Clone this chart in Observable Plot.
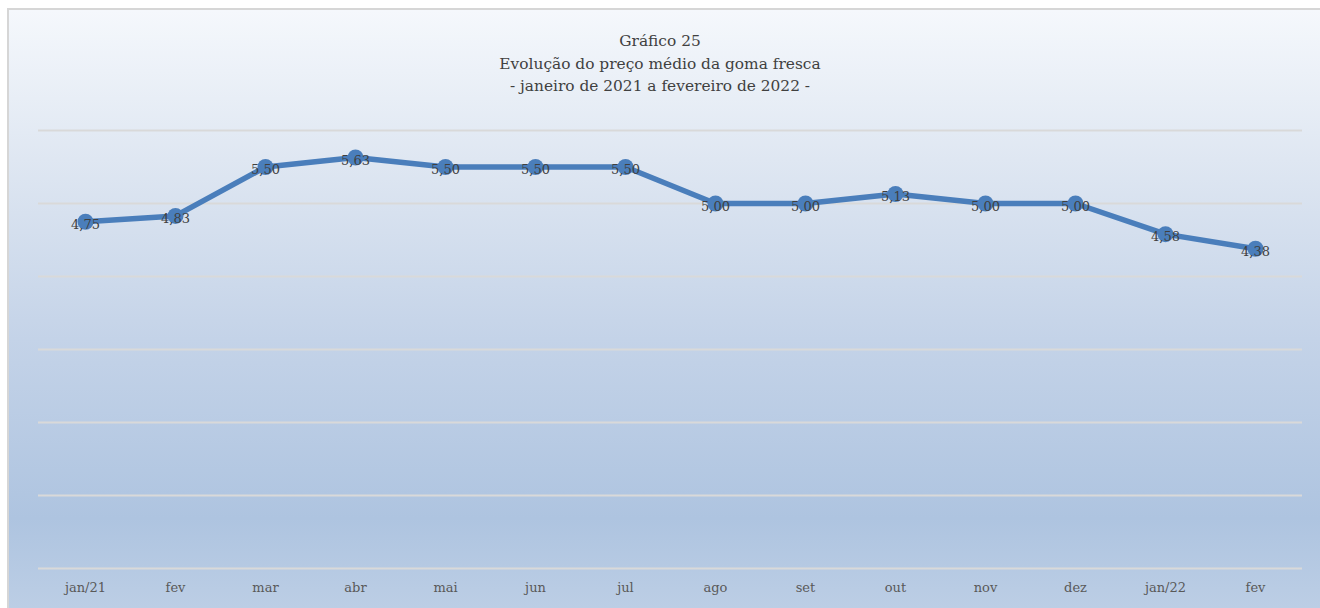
<!DOCTYPE html>
<html>
<head>
<meta charset="utf-8">
<script src="https://cdn.jsdelivr.net/npm/d3@7"></script>
<script src="https://cdn.jsdelivr.net/npm/@observablehq/plot@0.6"></script>
<style>
  html, body { margin: 0; padding: 0; background: #ffffff; width: 1320px; height: 608px; overflow: hidden; }
  #bg { position: absolute; left: 7px; top: 8px; right: 0; bottom: 0;
        border-left: 2px solid #d6d6d6; border-top: 2px solid #d6d6d6;
        background: linear-gradient(to bottom, #f5f8fc 0%, #dfe7f2 25%, #c4d3e8 55%, #aec4e0 85%, #bccee5 100%); }
  #wrap { position: absolute; left: 0; top: 0; width: 1320px; height: 608px; font-family: "DejaVu Serif", "Liberation Serif", serif; }
  #title { height: 100px; box-sizing: border-box; padding-top: 30px; text-align: center; color: #404040; font-size: 15.4px; line-height: 22.5px; }
  svg { display: block; background: transparent !important; }
</style>
</head>
<body>
<div id="bg"></div>
<div id="wrap">
  <div id="title">Gráfico 25<br>Evolução do preço médio da goma fresca<br>- janeiro de 2021 a fevereiro de 2022 -</div>
  <div id="chart"></div>
</div>
<script>
const months = ["jan/21","fev","mar","abr","mai","jun","jul","ago","set","out","nov","dez","jan/22","fev "];
const prices = [4.75, 4.83, 5.50, 5.63, 5.50, 5.50, 5.50, 5.00, 5.00, 5.13, 5.00, 5.00, 4.58, 4.38];
const gridValues = [0, 1, 2, 3, 4, 5, 6];

const data = months.map((m, i) => ({month: m, price: prices[i]}));
const fmt = v => v.toFixed(2).replace(".", ",");

const chart = Plot.plot({
  width: 1320,
  height: 508,
  marginTop: 30,
  marginBottom: 40,
  marginLeft: 38,
  marginRight: 18,
  style: {background: "transparent", fontFamily: "DejaVu Serif, Liberation Serif, serif"},
  x: {type: "point", domain: months, padding: 0.5, label: null},
  y: {domain: [0, 6], axis: null},
  marks: [
    Plot.ruleY(gridValues, {stroke: "#d9d9d9", strokeWidth: 2}),
    Plot.axisX({tickSize: 0, tickPadding: 14, fontSize: 13, fill: "#595959", label: null, tickFormat: d => d.trim()}),
    Plot.line(data, {x: "month", y: "price", stroke: "#4a7ebb", strokeWidth: 5.5, strokeLinejoin: "round"}),
    Plot.dot(data, {x: "month", y: "price", r: 8, fill: "#4a7ebb", stroke: "none"}),
    Plot.text(data, {x: "month", y: "price", text: d => fmt(d.price), dy: 3, fontSize: 13, fill: "#404040"})
  ]
});
document.getElementById("chart").appendChild(chart);
</script>
</body>
</html>
